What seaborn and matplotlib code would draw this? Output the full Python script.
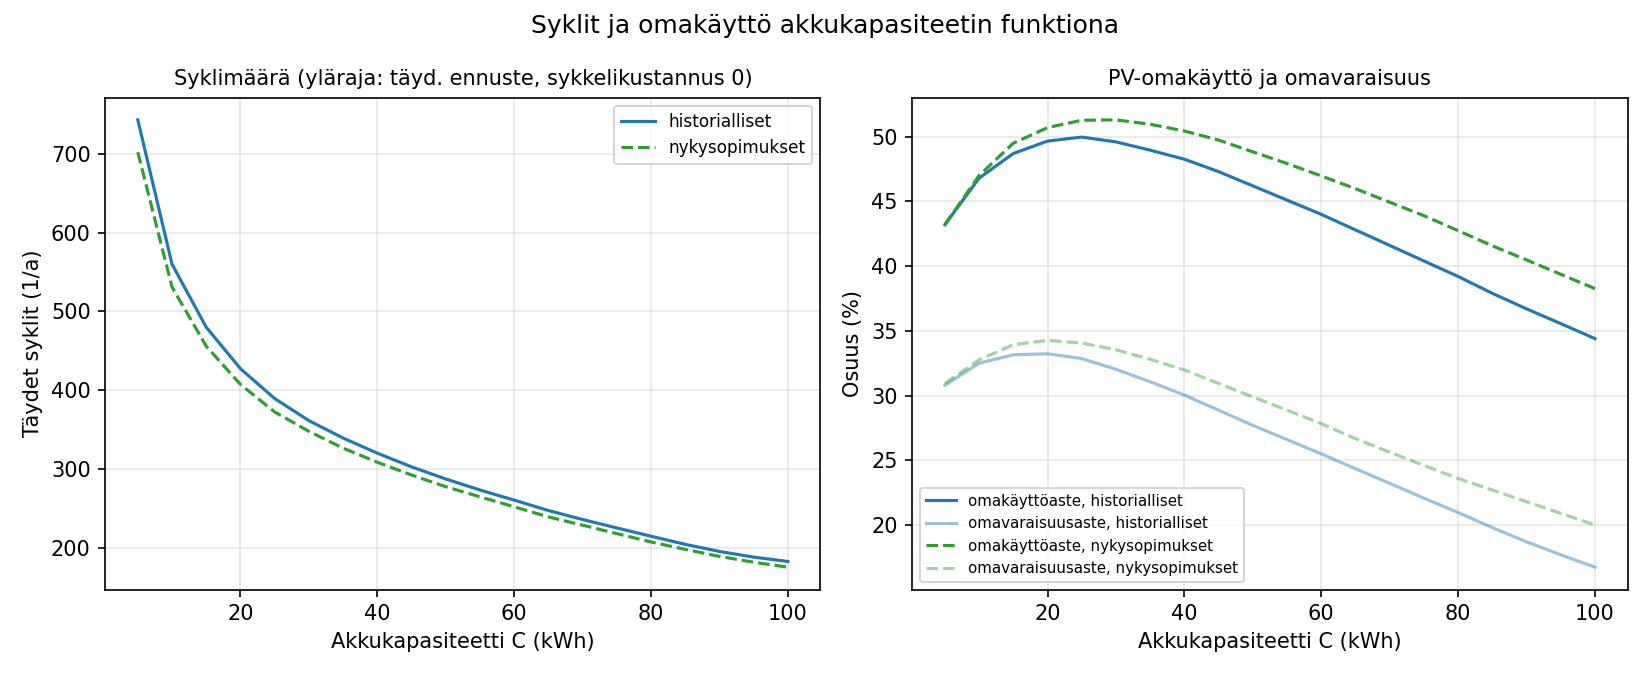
import numpy as np
import pandas as pd
import matplotlib
matplotlib.use("Agg")
import matplotlib.pyplot as plt
import seaborn as sns

capacity = [5, 10, 15, 20, 25, 30, 35, 40, 45, 50, 55, 60, 65, 70, 75, 80, 85, 90, 95, 100]

cycles_hist = [743, 560, 480, 427.5, 389.6, 361.6, 339.5, 320.3, 303, 287.6,
               273.6, 260.8, 247.6, 236.2, 225.5, 215, 204.7, 195.7, 188.5, 183]
cycles_nyky = [702, 531, 456, 407.5, 372.6, 348, 326.7, 308.8, 292.7, 277.8,
               265, 252.3, 239.5, 229, 218.3, 207.7, 198.3, 189.4, 182, 175.7]

sc_hist = [43.2, 46.8, 48.7, 49.66, 49.97, 49.6, 48.96, 48.26, 47.3, 46.2,
           45.1, 44.0, 42.8, 41.6, 40.4, 39.2, 37.9, 36.7, 35.56, 34.4]
sc_nyky = [43.2, 47.0, 49.5, 50.7, 51.27, 51.3, 50.96, 50.44, 49.74, 48.83,
           47.93, 46.97, 45.98, 44.94, 43.9, 42.74, 41.57, 40.48, 39.37, 38.26]
ss_hist = [30.8, 32.5, 33.15, 33.23, 32.86, 32.03, 31.07, 30.04, 28.87, 27.7,
           26.6, 25.5, 24.35, 23.22, 22.08, 20.96, 19.8, 18.7, 17.7, 16.74]
ss_nyky = [30.94, 32.76, 33.93, 34.26, 34.06, 33.54, 32.8, 31.98, 30.94, 29.9,
           28.87, 27.83, 26.67, 25.63, 24.6, 23.6, 22.7, 21.8, 20.9, 20.0]

BLUE = "#1f77b4"
GREEN = "#2ca02c"

plt.rcParams["font.family"] = ["DejaVu Sans"]

fig, axes = plt.subplots(1, 2, figsize=(11, 4.5), dpi=150)

ax = axes[0]
sns.lineplot(x=capacity, y=cycles_hist, ax=ax, color=BLUE, lw=1.5, label="historialliset")
sns.lineplot(x=capacity, y=cycles_nyky, ax=ax, color=GREEN, lw=1.5, ls="--", label="nykysopimukset")
ax.set_title("Syklimäärä (yläraja: täyd. ennuste, sykkelikustannus 0)", fontsize=10)
ax.set_xlabel("Akkukapasiteetti C (kWh)")
ax.set_ylabel("Täydet syklit (1/a)")
ax.grid(True, alpha=0.3)
ax.legend(fontsize=8.1, loc="upper right")

ax = axes[1]
sns.lineplot(x=capacity, y=sc_hist, ax=ax, color=BLUE, lw=1.5, label="omakäyttöaste, historialliset")
sns.lineplot(x=capacity, y=ss_hist, ax=ax, color=BLUE, lw=1.5, alpha=0.45, label="omavaraisuusaste, historialliset")
sns.lineplot(x=capacity, y=sc_nyky, ax=ax, color=GREEN, lw=1.5, ls="--", label="omakäyttöaste, nykysopimukset")
sns.lineplot(x=capacity, y=ss_nyky, ax=ax, color=GREEN, lw=1.5, ls="--", alpha=0.45, label="omavaraisuusaste, nykysopimukset")
ax.set_title("PV-omakäyttö ja omavaraisuus", fontsize=10)
ax.set_xlabel("Akkukapasiteetti C (kWh)")
ax.set_ylabel("Osuus (%)")
ax.grid(True, alpha=0.3)
ax.legend(fontsize=7.2, loc="lower left")

fig.suptitle("Syklit ja omakäyttö akkukapasiteetin funktiona", fontsize=12)
fig.tight_layout()
fig.savefig("out.png", dpi=150)
